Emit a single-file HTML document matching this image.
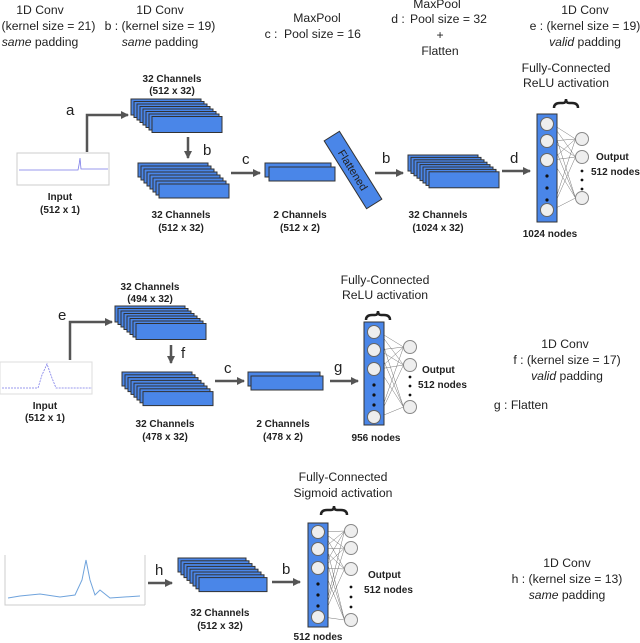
<!DOCTYPE html>
<html><head><meta charset="utf-8"><style>
html,body{margin:0;padding:0;background:#fff;width:640px;height:643px;overflow:hidden}
svg{display:block}
text{font-family:"Liberation Sans",Arial,sans-serif;fill:#222}
.b{font-weight:bold;font-size:10px}
.h{font-size:12.2px}
.l{font-size:15px}
</style></head><body>
<svg id="s" width="640" height="643" viewBox="0 0 640 643" xmlns="http://www.w3.org/2000/svg">
<defs><marker id="ar" markerWidth="8" markerHeight="8" refX="7" refY="4" orient="auto" markerUnits="userSpaceOnUse"><path d="M0,0 L8,4 L0,8 z" fill="#555"/></marker></defs>
<g text-anchor="middle" class="h">
<text x="40" y="14">1D Conv</text><text x="40" y="30">a : (kernel size = 21)</text><text x="40" y="46"><tspan font-style="italic">same</tspan> padding</text>
<text x="160" y="14">1D Conv</text><text x="160" y="30">b : (kernel size = 19)</text><text x="160" y="46"><tspan font-style="italic">same</tspan> padding</text>
<text x="317" y="22">MaxPool</text><text x="271" y="38">c :</text><text x="284" y="38" text-anchor="start">Pool size = 16</text>
<text x="437" y="8">MaxPool</text><text x="398" y="23">d :</text><text x="410" y="23" text-anchor="start">Pool size = 32</text><text x="440" y="39">+</text><text x="440" y="55">Flatten</text>
<text x="585" y="14">1D Conv</text><text x="585" y="30">e : (kernel size = 19)</text><text x="585" y="46"><tspan font-style="italic">valid</tspan> padding</text>
<text x="566" y="72">Fully-Connected</text><text x="566" y="87">ReLU activation</text>
<text x="385" y="284">Fully-Connected</text><text x="385" y="299">ReLU activation</text>
<text x="343" y="481">Fully-Connected</text><text x="343" y="497">Sigmoid activation</text>
<text x="565" y="348">1D Conv</text><text x="567" y="364">f : (kernel size = 17)</text><text x="567" y="380"><tspan font-style="italic">valid</tspan> padding</text>
<text x="521" y="409">g : Flatten</text>
<text x="567" y="567">1D Conv</text><text x="567" y="583">h : (kernel size = 13)</text><text x="567" y="599"><tspan font-style="italic">same</tspan> padding</text>
</g>
<g text-anchor="middle" class="b">
<text x="172" y="82">32 Channels</text><text x="172" y="94">(512 x 32)</text>
<text x="60" y="200">Input</text><text x="60" y="213">(512 x 1)</text>
<text x="181" y="218">32 Channels</text><text x="181" y="231">(512 x 32)</text>
<text x="300" y="218">2 Channels</text><text x="300" y="231">(512 x 2)</text>
<text x="438" y="218">32 Channels</text><text x="438" y="231">(1024 x 32)</text>
<text x="550" y="237">1024 nodes</text>
</g>
<g class="b">
<text x="596" y="160">Output</text><text x="591" y="175">512 nodes</text>
<text x="422" y="373">Output</text><text x="418" y="388">512 nodes</text>
<text x="368" y="578">Output</text><text x="364" y="593">512 nodes</text>
</g>
<g text-anchor="middle" class="b">
<text x="150" y="290">32 Channels</text><text x="150" y="302">(494 x 32)</text>
<text x="45" y="409">Input</text><text x="45" y="421">(512 x 1)</text>
<text x="165" y="427">32 Channels</text><text x="165" y="440">(478 x 32)</text>
<text x="283" y="427">2 Channels</text><text x="283" y="440">(478 x 2)</text>
<text x="376" y="441">956 nodes</text>
<text x="220" y="616">32 Channels</text><text x="220" y="629">(512 x 32)</text>
<text x="318" y="640">512 nodes</text>
</g>
<g class="l">
<text x="66" y="115">a</text><text x="203" y="155">b</text><text x="242" y="164">c</text><text x="382" y="163">b</text><text x="510" y="163">d</text>
<text x="58" y="320">e</text><text x="181" y="358">f</text><text x="224" y="373">c</text><text x="334" y="372">g</text>
<text x="155" y="575">h</text><text x="282" y="574">b</text>
</g>
<g stroke="#555" stroke-width="2.5" fill="none">
<path d="M87,152 V115 H128" marker-end="url(#ar)"/>
<path d="M188,137 V158" marker-end="url(#ar)"/>
<path d="M231,173 H260" marker-end="url(#ar)"/>
<path d="M375,173 H403" marker-end="url(#ar)"/>
<path d="M502,171 H530" marker-end="url(#ar)"/>
<path d="M70,360 V322 H112" marker-end="url(#ar)"/>
<path d="M171,345 V363" marker-end="url(#ar)"/>
<path d="M215,381 H244" marker-end="url(#ar)"/>
<path d="M330,381 H358" marker-end="url(#ar)"/>
<path d="M148,583 H172" marker-end="url(#ar)"/>
<path d="M272,582 H300" marker-end="url(#ar)"/>
</g>
<g fill="none" stroke="#ccc" stroke-width="1">
<rect x="17" y="153" width="92" height="32"/>
<rect x="0" y="362" width="92" height="32" stroke="#ddd"/>
<path d="M5,555 V605 H145"/><path d="M145,555 V605"/>
</g>
<path d="M19,170 H78 L79,165 L80,158 L81,169 H108" stroke="#7a7ae8" fill="none" stroke-width="0.8"/>
<path d="M2,388 H38 L42,375 L47,364 L52,378 L56,388 H92" stroke="#7a7ae8" fill="none" stroke-width="0.8" stroke-dasharray="2,1"/>
<path d="M8,598 L20,596 L40,594 L60,597 L75,595 L82,580 L86,560 L90,580 L95,595 L100,590 L110,598 L140,596" stroke="#6fa3dc" fill="none" stroke-width="1"/>
<g id="dyn"></g>
<g>
<path d="M554,108 q0,-5 6,-5 h3 q3,0 3,-4 q0,4 3,4 h3 q6,0 6,5" stroke="#222" stroke-width="2.5" fill="none"/>
<path d="M366,320 q0,-5 6,-5 h3 q3,0 3,-4 q0,4 3,4 h3 q6,0 6,5" stroke="#222" stroke-width="2.5" fill="none"/>
<path d="M321,515 q0,-5 6,-5 h4 q3,0 3,-4 q0,4 3,4 h4 q6,0 6,5" stroke="#222" stroke-width="2.5" fill="none"/>
</g>
<g transform="translate(353,170) rotate(58)">
<rect x="-40" y="-9" width="80" height="18" fill="#4a86e8" stroke="#333" stroke-width="1"/>
<text x="0" y="4" text-anchor="middle" font-size="11">Flattened</text>
</g>
</svg>
<script>
var NS="http://www.w3.org/2000/svg",g=document.getElementById("dyn");
function el(t,a){var e=document.createElementNS(NS,t);for(var k in a)e.setAttribute(k,a[k]);g.appendChild(e);return e;}
function stack(x,y,w,h,n,dx,dy){for(var i=0;i<n;i++)el("rect",{x:x+i*dx,y:y+i*dy,width:w,height:h,fill:"#4a86e8",stroke:"#333","stroke-width":1});}
stack(131,99,70,16,8,3,2.5);
stack(138,163,70,14,8,3,3);
stack(265,163,66,14,2,4,4);
stack(408,155,70,16,8,3,2.4);
stack(115,306,70,16,8,3,2.5);
stack(122,372,70,14,8,3,2.8);
stack(248,372,72,14,2,3,4);
stack(178,558,68,14,8,3,2.8);
function fc(x,y1,y2,cy,oy,ox,r,dots,odots){
 for(var i=0;i<cy.length;i++)for(var j=0;j<oy.length;j++)el("line",{x1:x+5,y1:cy[i],x2:ox-r,y2:oy[j],stroke:"#777","stroke-width":0.5});
 el("rect",{x:x-10,y:y1,width:20,height:y2-y1,fill:"#4a86e8",stroke:"#333","stroke-width":1});
 cy.forEach(function(c){el("circle",{cx:x,cy:c,r:r,fill:"#eee",stroke:"#666","stroke-width":1});});
 oy.forEach(function(c){el("circle",{cx:ox,cy:c,r:r,fill:"#eee",stroke:"#888","stroke-width":1});});
 dots.forEach(function(d){el("circle",{cx:x,cy:d,r:1.6,fill:"#111"});});
 odots.forEach(function(d){el("circle",{cx:ox,cy:d,r:1.4,fill:"#111"});});
}
fc(547,114,222,[124,141,160,210],[139,157,198],582,6.5,[176,188,200],[171,180,189]);
fc(374,322,425,[332,350,369,417],[347,365,407],410,6.5,[385,395,405],[377,386,395]);
fc(318,523,627,[532,549,568,617],[531,548,569,620],351,6.5,[584,595,606],[587,597,607]);
</script>
</body></html>
